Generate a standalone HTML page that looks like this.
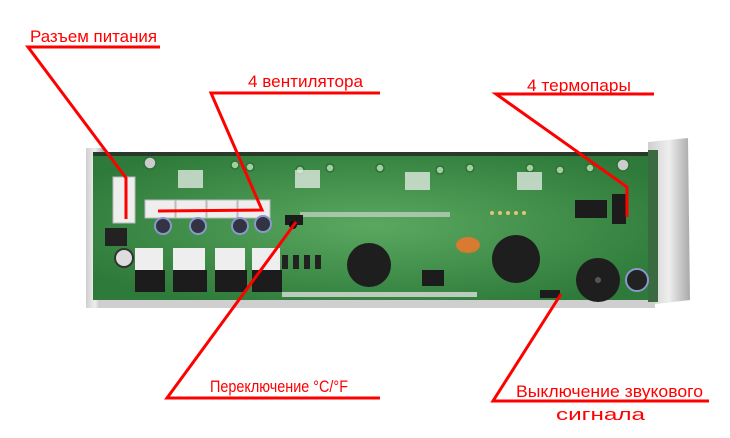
<!DOCTYPE html>
<html><head><meta charset="utf-8"><style>
html,body{margin:0;padding:0;background:#fff;}
svg{display:block}
text{font-family:"Liberation Sans","DejaVu Sans",sans-serif;fill:#f00;font-size:17px}
</style></head><body>
<svg width="730" height="438" viewBox="0 0 730 438" xmlns="http://www.w3.org/2000/svg">
<defs>
<radialGradient id="bd" cx="50%" cy="50%" r="60%"><stop offset="0" stop-color="#5aa860"/><stop offset="1" stop-color="#2e7a3a"/></radialGradient>
<linearGradient id="mt" x1="0" x2="1"><stop offset="0" stop-color="#cfcfcf"/><stop offset="0.5" stop-color="#eee"/><stop offset="1" stop-color="#a9a9a9"/></linearGradient>
</defs>
<rect x="86" y="148" width="18" height="160" fill="url(#mt)"/>
<polygon points="648,142 688,138 690,300 648,305" fill="url(#mt)"/>
<rect x="100" y="298" width="555" height="10" fill="#cfcfcf"/>
<rect x="93" y="152" width="560" height="148" fill="url(#bd)"/>
<rect x="93" y="152" width="560" height="4" fill="#2a3a2a"/>
<rect x="648" y="150" width="10" height="152" fill="#3a6a40"/>
<g fill="#9fd0a0" stroke="#2f6f35" stroke-width="1.5">
<circle cx="150" cy="163" r="6" fill="#ccc"/>
<circle cx="623" cy="165" r="6" fill="#ccc"/>
<circle cx="235" cy="165" r="4"/><circle cx="250" cy="167" r="4"/><circle cx="300" cy="170" r="4"/><circle cx="330" cy="168" r="4"/>
<circle cx="380" cy="168" r="4"/><circle cx="440" cy="170" r="4"/><circle cx="470" cy="168" r="4"/><circle cx="530" cy="168" r="4"/><circle cx="560" cy="170" r="4"/><circle cx="590" cy="168" r="4"/>
</g>
<g fill="#dfe8df" opacity="0.8">
<rect x="178" y="170" width="25" height="18"/><rect x="295" y="170" width="25" height="18"/><rect x="405" y="172" width="25" height="18"/><rect x="517" y="172" width="25" height="18"/>
</g>
<g fill="#ddd">
<rect x="300" y="212" width="150" height="5" opacity="0.6"/>
<rect x="282" y="292" width="195" height="5" opacity="0.8"/>
</g>
<rect x="113" y="177" width="22" height="46" fill="#eee" stroke="#bbb"/>
<rect x="105" y="228" width="22" height="18" fill="#222"/>
<circle cx="124" cy="258" r="9" fill="#ddd" stroke="#333" stroke-width="2"/>
<g fill="#eee" stroke="#bbb"><rect x="145" y="200" width="30" height="18"/><rect x="176" y="200" width="30" height="18"/><rect x="207" y="200" width="30" height="18"/><rect x="238" y="200" width="32" height="18"/></g>
<g fill="#334" stroke="#8899cc" stroke-width="2"><circle cx="163" cy="226" r="8"/><circle cx="198" cy="226" r="8"/><circle cx="240" cy="226" r="8"/><circle cx="263" cy="224" r="8"/></g>
<g fill="#eee"><rect x="135" y="248" width="28" height="22"/><rect x="173" y="248" width="32" height="22"/><rect x="215" y="248" width="30" height="22"/><rect x="252" y="248" width="28" height="22"/></g>
<g fill="#1c1c1c"><rect x="135" y="270" width="30" height="22"/><rect x="173" y="270" width="34" height="22"/><rect x="215" y="270" width="32" height="22"/><rect x="252" y="270" width="30" height="22"/></g>
<rect x="285" y="215" width="18" height="10" fill="#1c1c1c"/><circle cx="293" cy="225" r="4" fill="#111"/>
<g fill="#222"><rect x="282" y="255" width="6" height="14"/><rect x="293" y="255" width="6" height="14"/><rect x="304" y="255" width="6" height="14"/><rect x="315" y="255" width="6" height="14"/></g>
<circle cx="369" cy="265" r="22" fill="#1e1e1e"/>
<circle cx="516" cy="259" r="24" fill="#1e1e1e"/>
<ellipse cx="468" cy="245" rx="12" ry="8" fill="#d87a30"/>
<rect x="422" y="270" width="22" height="16" fill="#1c1c1c"/>
<rect x="575" y="200" width="32" height="18" fill="#1c1c1c"/>
<rect x="612" y="194" width="14" height="30" fill="#1c1c1c"/>
<rect x="540" y="290" width="20" height="8" fill="#1c1c1c"/>
<circle cx="598" cy="280" r="22" fill="#1e1e1e"/><circle cx="598" cy="280" r="3" fill="#555"/>
<circle cx="637" cy="280" r="11" fill="#222" stroke="#8899cc" stroke-width="2"/>
<g fill="#e5c37a"><circle cx="492" cy="213" r="2"/><circle cx="500" cy="213" r="2"/><circle cx="508" cy="213" r="2"/><circle cx="516" cy="213" r="2"/><circle cx="524" cy="213" r="2"/></g>
<g stroke="#f00" stroke-width="3" fill="none" stroke-linejoin="miter">
<polyline points="160,47 28,47 126,178 126,219"/>
<polyline points="380,93 211,93 262,210 158,211"/>
<polyline points="654,94 496,94 627,187 627,217"/>
<polyline points="380,398 167,398 296,222"/>
<polyline points="709,401 493,401 561,294"/>
</g>
<text x="30" y="42" textLength="127" lengthAdjust="spacingAndGlyphs">Разъем питания</text>
<text x="248" y="87" textLength="115" lengthAdjust="spacingAndGlyphs">4 вентилятора</text>
<text x="527" y="91" textLength="104" lengthAdjust="spacingAndGlyphs">4 термопары</text>
<text x="210" y="392" textLength="138" lengthAdjust="spacingAndGlyphs">Переключение °C/°F</text>
<text x="516" y="397" textLength="187" lengthAdjust="spacingAndGlyphs">Выключение звукового</text>
<text x="556" y="420" textLength="89" lengthAdjust="spacingAndGlyphs">сигнала</text>
</svg>
</body></html>
